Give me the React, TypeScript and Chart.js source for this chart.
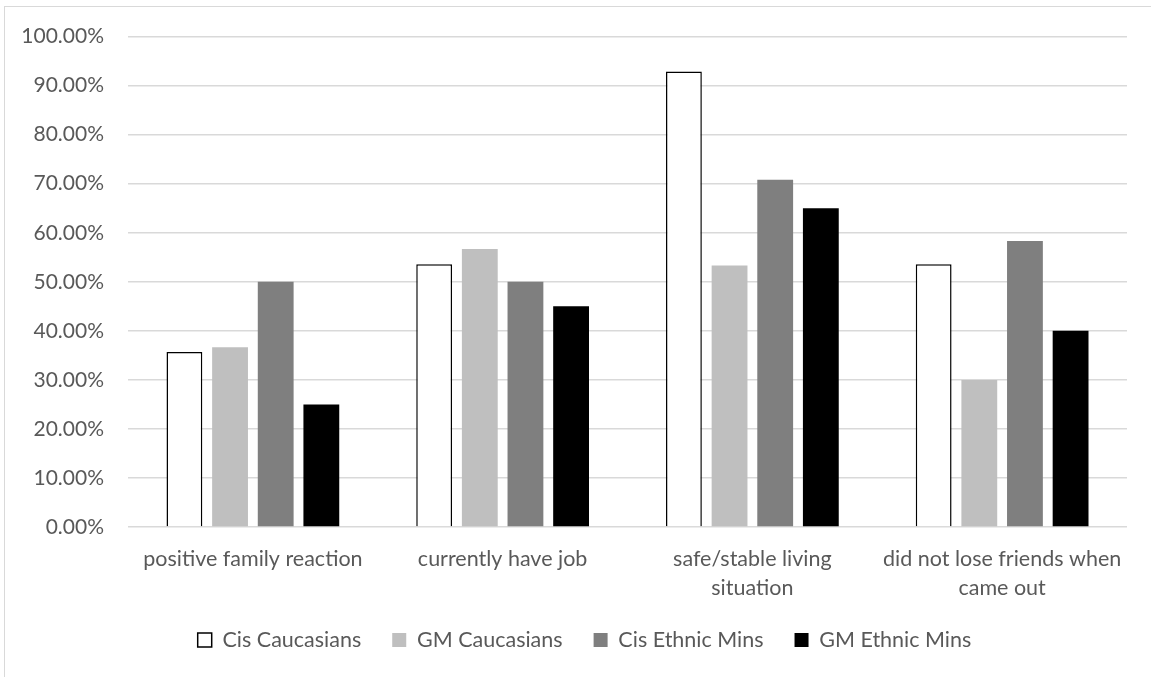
import React, { useEffect, useRef } from "react";
import { Chart, registerables } from "chart.js";

Chart.register(...registerables);

const categories: (string | string[])[] = [
  "positive family reaction",
  "currently have job",
  ["safe/stable living", "situation"],
  ["did not lose friends when", "came out"],
];

const seriesNames = ["Cis Caucasians", "GM Caucasians", "Cis Ethnic Mins", "GM Ethnic Mins"];
const cisCaucasians = [35.71, 53.57, 92.86, 53.57];
const gmCaucasians = [36.67, 56.67, 53.33, 30.0];
const cisEthnicMins = [50.0, 50.0, 70.83, 58.33];
const gmEthnicMins = [25.0, 45.0, 65.0, 40.0];

const yTicks = [0, 10, 20, 30, 40, 50, 60, 70, 80, 90, 100];

const FONT = "Lato, 'Open Sans', sans-serif";
const TEXT = "#595959";

const legendShift = {
  id: "legendShift",
  afterLayout(chart: any) {
    if (chart.legend) {
      chart.legend.left -= 43;
      chart.legend.right -= 43;
    }
  },
};

export default function App() {
  const ref = useRef<HTMLCanvasElement | null>(null);

  useEffect(() => {
    if (!ref.current) return;
    const chart = new Chart(ref.current, {
      type: "bar",
      data: {
        labels: categories,
        datasets: [
          {
            label: seriesNames[0],
            data: cisCaucasians,
            backgroundColor: "#ffffff",
            borderColor: "#000000",
            borderWidth: 1.5,
          },
          {
            label: seriesNames[1],
            data: gmCaucasians,
            backgroundColor: "#bfbfbf",
            borderColor: "#bfbfbf",
            borderWidth: 0,
          },
          {
            label: seriesNames[2],
            data: cisEthnicMins,
            backgroundColor: "#7f7f7f",
            borderColor: "#7f7f7f",
            borderWidth: 0,
          },
          {
            label: seriesNames[3],
            data: gmEthnicMins,
            backgroundColor: "#000000",
            borderColor: "#000000",
            borderWidth: 0,
          },
        ],
      },
      plugins: [legendShift],
      options: {
        responsive: false,
        animation: false,
        datasets: {
          bar: {
            categoryPercentage: 0.731,
            barPercentage: 0.785,
          },
        },
        layout: {
          padding: { top: 33, right: 24, bottom: 16.25, left: 0 },
        },
        plugins: {
          tooltip: { enabled: false },
          legend: {
            position: "bottom",
            fullSize: false,
            labels: {
              boxWidth: 14,
              boxHeight: 14,
              padding: 31,
              color: TEXT,
              font: { family: FONT, size: 21.5 },
            },
          },
        },
        scales: {
          x: {
            afterFit: (scale: any) => {
              scale.height = 71.25;
            },
            grid: { display: false, drawTicks: false },
            border: { display: false },
            ticks: {
              color: TEXT,
              padding: 18,
              maxRotation: 0,
              autoSkip: false,
              font: { family: FONT, size: 21.5, lineHeight: 1.35 },
            },
          },
          y: {
            min: 0,
            max: 100,
            afterFit: (scale: any) => {
              scale.width = 128;
            },
            afterBuildTicks: (scale: any) => {
              scale.ticks = yTicks.map((v) => ({ value: v }));
            },
            grid: { color: "#d9d9d9", lineWidth: 1.5, drawTicks: false },
            border: { display: false },
            ticks: {
              color: TEXT,
              padding: 24,
              font: { family: FONT, size: 21 },
              callback: (v: any) => Number(v).toFixed(2) + "%",
            },
          },
        },
      },
    });
    return () => chart.destroy();
  }, []);

  return (
    <div style={{ position: "fixed", left: 0, top: 0, width: 1151, height: 677, background: "#fff", overflow: "hidden" }}>
      <div
        style={{
          position: "absolute",
          left: 4,
          top: 6,
          width: 1200,
          height: 720,
          border: "1.5px solid #d9d9d9",
          boxSizing: "border-box",
        }}
      />
      <canvas ref={ref} width={1151} height={677} style={{ position: "absolute", left: 0, top: 0 }} />
    </div>
  );
}
